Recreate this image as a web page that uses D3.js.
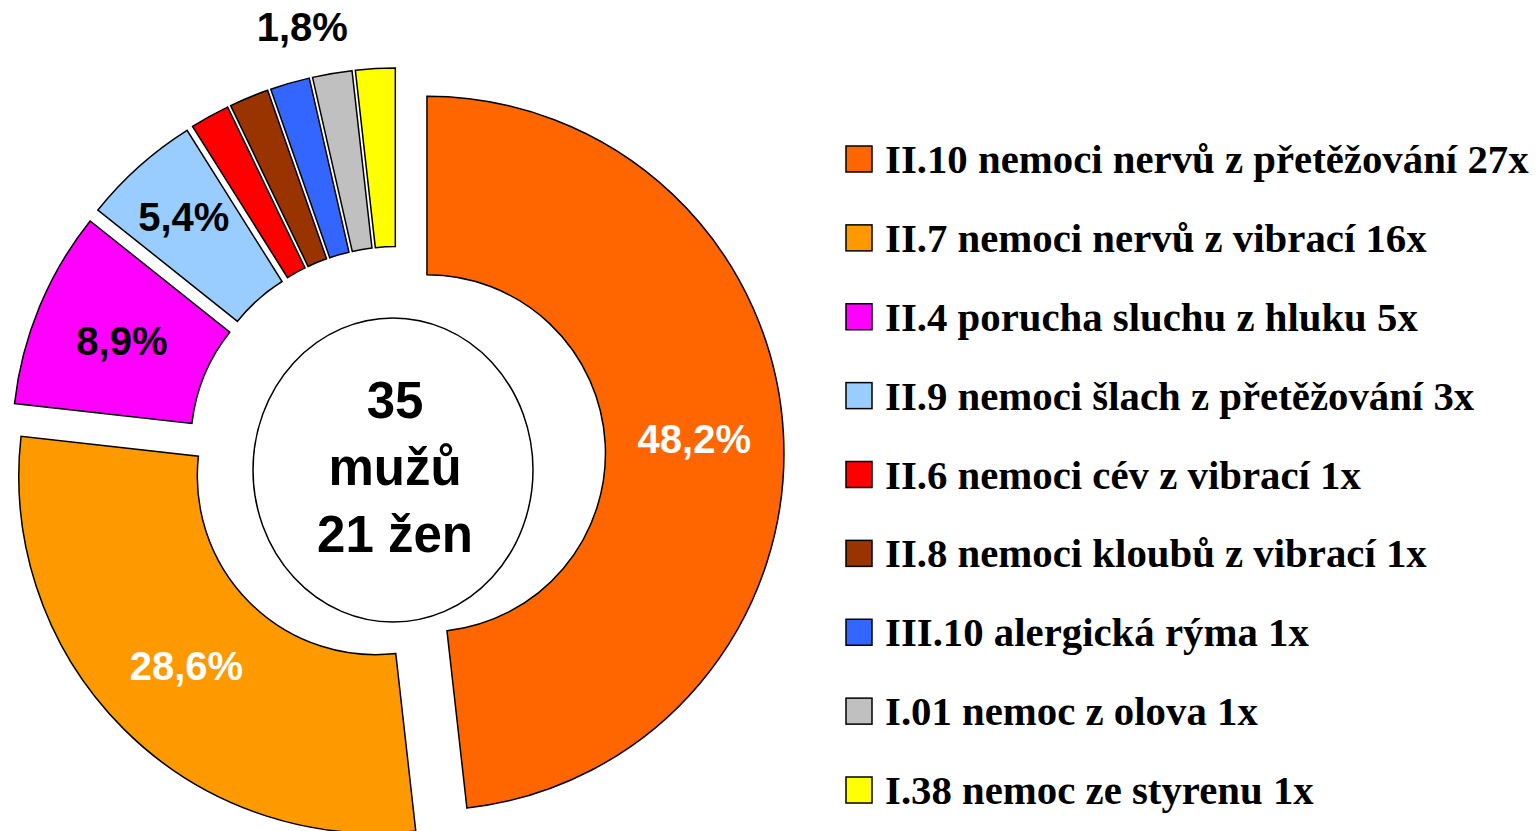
<!DOCTYPE html>
<html>
<head>
<meta charset="utf-8">
<script src="https://cdn.jsdelivr.net/npm/d3@7"></script>
<style>
  body { margin: 0; background: #fff; }
  svg { display: block; }
</style>
</head>
<body>
<div id="chart"></div>
<script>
// data
const categories = [
    "II.10 nemoci nervů z přetěžování 27x",
    "II.7 nemoci nervů z vibrací 16x",
    "II.4 porucha sluchu z hluku 5x",
    "II.9 nemoci šlach z přetěžování 3x",
    "II.6 nemoci cév z vibrací 1x",
    "II.8 nemoci kloubů z vibrací 1x",
    "III.10 alergická rýma 1x",
    "I.01 nemoc z olova 1x",
    "I.38 nemoc ze styrenu 1x"
];
const counts = [27, 16, 5, 3, 1, 1, 1, 1, 1];
const sliceColors = ["#FF6600", "#FF9900", "#FF00FF", "#99CCFF", "#FF0000", "#993300", "#3366FF", "#C0C0C0", "#FFFF00"];
// which slices carry a percentage label: "in" = on the slice, "out" = above the small group
const labelModes = ["in", "in", "in", "in", "none", "none", "none", "out", "none"];
const centerLines = ["35", "mužů", "21 žen"];

const WIDTH = 1540, HEIGHT = 831;
const cx = 397, cy = 455;
const outerR = 357, innerR = outerR * 0.5;
const explode = 30;

const svg = d3.select("#chart")
    .append("svg")
    .attr("width", WIDTH)
    .attr("height", HEIGHT)
    .style("background", "#fff");

const total = d3.sum(counts);
const fmt = v => (Math.round(v * 1000) / 10).toFixed(1).replace(".", ",") + "%";

let pie = d3.pie().sort(null).value(d => d.value).startAngle(0).endAngle(2 * Math.PI);
let data = categories.map((c, i) => ({name: c, value: counts[i], color: sliceColors[i], mode: labelModes[i]}));
let arcsData = pie(data);

let arc = d3.arc().innerRadius(innerR).outerRadius(outerR);

let g = svg.append("g").attr("transform", `translate(${cx},${cy})`);

function offset(d) {
    let a = (d.startAngle + d.endAngle) / 2;
    return [explode * Math.sin(a), -explode * Math.cos(a)];
}

let slices = g.selectAll("g.slice")
    .data(arcsData)
    .enter()
    .append("g")
    .attr("class", "slice")
    .attr("transform", d => "translate(" + offset(d) + ")");

slices.append("path")
    .attr("d", arc)
    .attr("fill", d => d.data.color)
    .attr("stroke", "#000")
    .attr("stroke-width", 1.5)
    .attr("stroke-linejoin", "miter");

// percentage labels
slices.filter(d => d.data.mode == "in").each(function(d) {
    let grp = d3.select(this);
    let t = grp.append("text")
        .style("font-family", "Arial, 'Liberation Sans', sans-serif")
        .style("font-weight", "bold")
        .style("font-size", "40px")
        .attr("text-anchor", "middle")
        .attr("dy", "0.36em")
        .attr("fill", d.index < 2 ? "#fff" : "#000")
        .text(fmt(d.value / total));
    // push the label outward until it fits across the slice
    let w = t.node().getComputedTextLength() + 6;
    let half = (d.endAngle - d.startAngle) / 2;
    let r = Math.max((innerR + outerR) / 2, w / (2 * Math.sin(half)));
    let a = (d.startAngle + d.endAngle) / 2;
    t.attr("x", r * Math.sin(a)).attr("y", -r * Math.cos(a));
});

slices.filter(d => d.data.mode == "out").each(function(d) {
    let a = d.startAngle;
    let r = outerR + 82;
    g.append("text")
        .style("font-family", "Arial, 'Liberation Sans', sans-serif")
        .style("font-weight", "bold")
        .style("font-size", "40px")
        .attr("text-anchor", "middle")
        .attr("dy", "0.36em")
        .attr("x", r * Math.sin(a) + 3)
        .attr("y", -r * Math.cos(a))
        .text(fmt(d.value / total));
});

// white oval in the hole
const holeCx = cx - 4, holeCy = cy + 15;
svg.append("ellipse")
    .attr("cx", holeCx)
    .attr("cy", holeCy)
    .attr("rx", 140)
    .attr("ry", 152)
    .attr("fill", "#fff")
    .attr("stroke", "#000")
    .attr("stroke-width", 1.5);

svg.append("g").selectAll("text")
    .data(centerLines)
    .enter()
    .append("text")
    .attr("x", holeCx + 2)
    .attr("y", (d, i) => holeCy - 3 + (i - 1) * 67)
    .attr("dy", "0.36em")
    .attr("text-anchor", "middle")
    .style("font-family", "Arial, 'Liberation Sans', sans-serif")
    .style("font-weight", "bold")
    .style("font-size", "51px")
    .text(d => d);

// legend
let yLeg = d3.scalePoint().domain(categories).range([159, 790]);
let legend = svg.append("g");
let rows = legend.selectAll("g")
    .data(data)
    .enter()
    .append("g")
    .attr("transform", d => `translate(846,${yLeg(d.name)})`);

rows.append("rect")
    .attr("x", 0)
    .attr("y", -13)
    .attr("width", 26)
    .attr("height", 26)
    .attr("fill", d => d.color)
    .attr("stroke", "#000")
    .attr("stroke-width", 1.5);

rows.append("text")
    .attr("x", 39)
    .attr("y", 14)
    .style("font-family", "'Times New Roman', 'Liberation Serif', serif")
    .style("font-weight", "bold")
    .style("font-size", "40.8px")
    .text(d => d.name);
</script>
</body>
</html>
